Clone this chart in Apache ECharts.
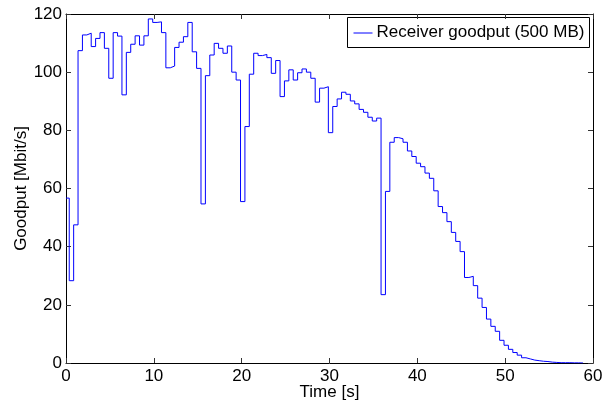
<!DOCTYPE html>
<html lang="en">
<head>
    <meta charset="UTF-8">
    <title>Receiver goodput</title>
    <script type="text/javascript" src="https://cdn.jsdelivr.net/npm/echarts@6/dist/echarts.min.js"></script>
    <style>
        html, body { margin: 0; padding: 0; background: #fff; }
    </style>
</head>
<body>
<div id="main" style="width: 609px; height: 403px"></div>

<script type="text/javascript">
    // goodput per sample, Mbit/s
    var goodput = [
        56.7, 28.3, 47.5, 107.4, 112.8, 113.4, 108.8, 111.6, 113.6, 108.2,
        97.9, 113.6, 112.4, 92.2, 106.8, 109.6, 112.5, 109.3, 112.5, 118.3,
        117.1, 117.3, 113.6, 101.5, 102.1, 108.5, 110.3, 112.2, 117.1, 107.0,
        101.3, 54.7, 98.8, 105.9, 109.9, 108.2, 106.5, 109.0, 100.0, 97.3,
        55.5, 81.3, 99.3, 106.5, 105.7, 106.1, 105.0, 99.6, 104.0, 91.6,
        97.0, 100.8, 97.3, 99.8, 101.1, 100.0, 97.9, 89.7, 94.5, 95.0,
        79.2, 88.2, 90.8, 93.1, 92.4, 90.1, 89.1, 87.2, 86.2, 84.5,
        83.2, 84.2, 23.5, 59.0, 75.9, 77.5, 77.1, 75.9, 72.9, 71.0,
        68.7, 67.5, 65.3, 63.5, 59.2, 53.8, 51.7, 48.6, 44.9, 41.8,
        38.3, 29.4, 29.8, 26.6, 22.3, 19.1, 15.1, 12.6, 10.9, 7.8,
        6.1, 4.7, 3.6, 2.7, 1.8, 1.4, 1.0, 0.8, 0.6, 0.5,
        0.3, 0.2, 0.1, 0.1, 0.1, 0.05, 0.05, 0.0, 0.0
    ];
    // sampling: first sample at 0 s, then every 0.5 s from 0.37 s
    var firstEdge = 0.37;
    var sampleStep = 0.5;

    var xTicks = [0, 10, 20, 30, 40, 50, 60];
    var yTicks = [0, 20, 40, 60, 80, 100, 120];

    var seriesName = 'Receiver goodput (500 MB)';

    var points = [];
    for (var i = 0; i < goodput.length; i++) {
        var t = i === 0 ? 0 : firstEdge + sampleStep * (i - 1);
        points.push([t, goodput[i]]);
    }

    var myChart = echarts.init(document.getElementById('main'));

    var font = 'Liberation Sans, Arial, Helvetica, sans-serif';
    var blue = '#0000ff';
    var axisCommon = {
        type: 'value',
        splitLine: { show: false },
        nameMoveOverlap: false,
        axisLine: { show: true, onZero: false, lineStyle: { color: '#000', width: 1 } },
        axisTick: { show: true, inside: true, length: 5, lineStyle: { color: '#333' } }
    };

    option = {
        animation: false,
        backgroundColor: '#fff',
        color: [blue],
        grid: { left: 66, right: 16, top: 14, bottom: 40, outerBoundsMode: 'none', containLabel: false },
        legend: { show: false, data: [seriesName] },
        // legend box drawn by hand (MATLAB style: short line + label)
        graphic: [{
            type: 'group',
            right: 19,
            top: 17,
            children: [{
                type: 'rect',
                shape: { x: 0, y: 0, width: 242, height: 30 },
                style: { fill: '#fff', stroke: '#000', lineWidth: 1 }
            }, {
                type: 'line',
                shape: { x1: 6, y1: 15.5, x2: 25, y2: 15.5 },
                style: { stroke: blue, lineWidth: 1 }
            }, {
                type: 'text',
                x: 29,
                y: 15,
                style: {
                    text: seriesName,
                    font: '17px ' + font,
                    fill: '#000',
                    verticalAlign: 'middle'
                }
            }]
        }],
        xAxis: [
            Object.assign({}, axisCommon, {
                min: xTicks[0],
                max: xTicks[xTicks.length - 1],
                interval: 10,
                position: 'bottom',
                name: 'Time [s]',
                nameLocation: 'middle',
                nameGap: 21,
                nameTextStyle: { fontFamily: font, fontSize: 17, color: '#000' },
                axisLabel: { fontFamily: font, fontSize: 17, color: '#000', margin: 5 }
            }),
            Object.assign({}, axisCommon, {
                min: xTicks[0],
                max: xTicks[xTicks.length - 1],
                interval: 10,
                position: 'top',
                axisLabel: { show: false }
            })
        ],
        yAxis: [
            Object.assign({}, axisCommon, {
                min: yTicks[0],
                max: yTicks[yTicks.length - 1],
                interval: 20,
                position: 'left',
                name: 'Goodput [Mbit/s]',
                nameLocation: 'middle',
                nameGap: 36,
                nameTextStyle: { fontFamily: font, fontSize: 17, color: '#000' },
                axisLabel: { fontFamily: font, fontSize: 17, color: '#000', margin: 4 }
            }),
            Object.assign({}, axisCommon, {
                min: yTicks[0],
                max: yTicks[yTicks.length - 1],
                interval: 20,
                position: 'right',
                axisLabel: { show: false }
            })
        ],
        series: [{
            name: seriesName,
            type: 'line',
            step: 'end',
            data: points,
            symbol: 'none',
            showSymbol: false,
            lineStyle: { color: blue, width: 1 },
            itemStyle: { color: blue }
        }]
    };

    myChart.setOption(option);
</script>
</body>
</html>
